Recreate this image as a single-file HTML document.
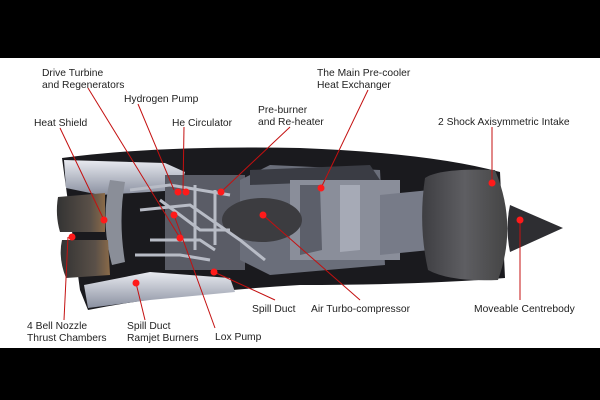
<!DOCTYPE html>
<html><head><meta charset="utf-8"><style>
html,body{margin:0;padding:0;background:#000;}
svg{display:block}
text{font-family:"Liberation Sans",sans-serif;font-size:10.3px;fill:#222}
</style></head><body>
<svg width="600" height="400" viewBox="0 0 600 400" xmlns="http://www.w3.org/2000/svg">
<defs>
<linearGradient id="noz" x1="0" y1="0" x2="1" y2="0"><stop offset="0" stop-color="#333"/><stop offset="0.7" stop-color="#5a5048"/><stop offset="1" stop-color="#8a6a48"/></linearGradient>
<linearGradient id="intk" x1="0" y1="0" x2="1" y2="0"><stop offset="0" stop-color="#3e3e42"/><stop offset="0.5" stop-color="#5e5e62"/><stop offset="1" stop-color="#444"/></linearGradient>
<linearGradient id="sil" x1="0" y1="0" x2="0" y2="1"><stop offset="0" stop-color="#e8eaf0"/><stop offset="1" stop-color="#8a90a0"/></linearGradient>
</defs>
<rect x="0" y="0" width="600" height="400" fill="#000"/>
<rect x="0" y="58" width="600" height="290" fill="#fff"/>
<path d="M62 158 Q160 145 300 148 Q430 153 500 172 L505 278 Q420 285 300 285 Q180 292 88 310 L80 290 Z" fill="#1a1a1e"/>
<path d="M64 160 L165 163 L185 172 L180 190 L100 195 L66 188 Z" fill="url(#sil)"/>
<path d="M84 285 L150 272 L230 278 L235 292 L150 300 L88 308 Z" fill="url(#sil)"/>
<rect x="165" y="175" width="80" height="95" fill="#5a5c66"/>
<path d="M240 180 L270 165 L380 170 L385 265 L270 275 L240 260 Z" fill="#6a6e7a"/>
<path d="M250 170 L370 165 L380 180 L250 185 Z" fill="#3a3c44"/>
<rect x="290" y="180" width="110" height="80" fill="#8a8e9a"/>
<path d="M300 185 L320 185 L322 250 L300 255 Z" fill="#5c5f6a"/>
<path d="M340 185 L360 185 L360 250 L340 252 Z" fill="#a6aab6"/>
<path d="M380 195 L430 190 L430 250 L380 255 Z" fill="#777b88"/>
<ellipse cx="262" cy="220" rx="40" ry="22" fill="#3c3c40"/>
<g stroke="#b8bcc6" stroke-width="3" fill="none">
<path d="M130 190 L170 185 L200 190 L230 195"/>
<path d="M140 210 L190 205 L240 240 L265 260"/>
<path d="M150 240 L200 240 L215 250"/>
<path d="M160 200 L200 230 L230 230"/>
<path d="M135 255 L180 255 L210 260"/>
<path d="M195 185 L195 250"/>
<path d="M215 190 L215 245"/>
</g>
<path d="M110 180 Q100 220 112 265 L125 262 Q118 220 125 182 Z" fill="#8a8e98"/>
<path d="M58 197 Q55 215 60 232 L105 232 L105 193 Z" fill="url(#noz)"/>
<path d="M62 240 Q58 258 66 278 L110 275 L108 240 Z" fill="url(#noz)"/>
<path d="M425 178 Q440 168 495 170 Q518 225 498 280 Q450 282 428 270 Q418 225 425 178 Z" fill="url(#intk)"/>
<path d="M510 205 L563 228 L510 252 Q505 228 510 205 Z" fill="#2e2e32"/>
<g stroke="#c41010" stroke-width="1" fill="none">
<line x1="60" y1="128" x2="104" y2="220"/>
<line x1="88" y1="88" x2="180" y2="238"/>
<line x1="138" y1="104" x2="174" y2="190"/>
<line x1="184" y1="127" x2="183" y2="190"/>
<line x1="290" y1="127" x2="221" y2="192"/>
<line x1="368" y1="90" x2="321" y2="188"/>
<line x1="492" y1="127" x2="492" y2="183"/>
<line x1="68" y1="237" x2="64" y2="320"/>
<line x1="136" y1="283" x2="145" y2="320"/>
<line x1="174" y1="215" x2="215" y2="328"/>
<line x1="214" y1="272" x2="275" y2="300"/>
<line x1="263" y1="215" x2="360" y2="300"/>
<line x1="520" y1="220" x2="520" y2="300"/>
</g>
<g fill="#ff1a1a">
<circle cx="104" cy="220" r="3.5"/><circle cx="72" cy="237" r="3.5"/><circle cx="178" cy="192" r="3.5"/><circle cx="186" cy="192" r="3.5"/>
<circle cx="174" cy="215" r="3.5"/><circle cx="180" cy="238" r="3.5"/><circle cx="221" cy="192" r="3.5"/><circle cx="321" cy="188" r="3.5"/>
<circle cx="492" cy="183" r="3.5"/><circle cx="520" cy="220" r="3.5"/><circle cx="263" cy="215" r="3.5"/><circle cx="214" cy="272" r="3.5"/><circle cx="136" cy="283" r="3.5"/>
</g>
<text x="42" y="76">Drive Turbine</text><text x="42" y="88">and Regenerators</text>
<text x="124" y="102">Hydrogen Pump</text>
<text x="34" y="126">Heat Shield</text>
<text x="172" y="126">He Circulator</text>
<text x="258" y="113">Pre-burner</text><text x="258" y="125">and Re-heater</text>
<text x="317" y="76">The Main Pre-cooler</text><text x="317" y="88">Heat Exchanger</text>
<text x="438" y="125">2 Shock Axisymmetric Intake</text>
<text x="252" y="312">Spill Duct</text>
<text x="311" y="312">Air Turbo-compressor</text>
<text x="474" y="312">Moveable Centrebody</text>
<text x="27" y="329">4 Bell Nozzle</text><text x="27" y="341">Thrust Chambers</text>
<text x="127" y="329">Spill Duct</text><text x="127" y="341">Ramjet Burners</text>
<text x="215" y="340">Lox Pump</text>
</svg>
</body></html>
